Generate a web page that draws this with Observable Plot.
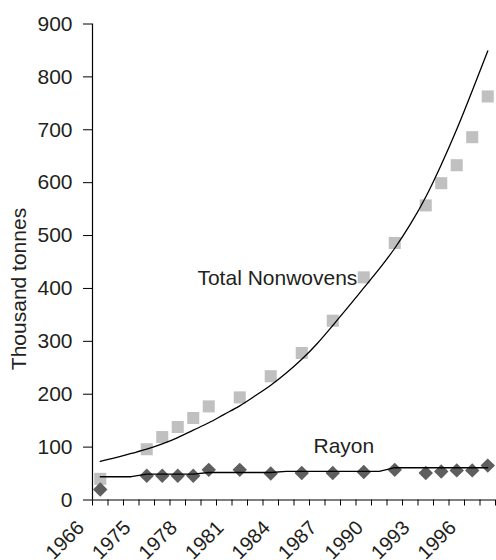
<!DOCTYPE html>
<html><head><meta charset="utf-8">
<script src="https://cdn.jsdelivr.net/npm/d3@7"></script>
<script src="https://cdn.jsdelivr.net/npm/@observablehq/plot@0.6"></script>
<style>body{margin:0;background:#fff}</style>
</head><body><div id="chart"></div>
<script>
const years = ["1966","1973","1974","1975","1976","1977","1978","1979","1980","1981","1982","1983","1984","1985","1986","1987","1988","1989","1990","1991","1992","1993","1994","1995","1996","1997"];
const tickLabels = ["1966","1975","1978","1981","1984","1987","1990","1993","1996"];
const yTicks = [0,100,200,300,400,500,600,700,800,900];

const pointYears = ["1966","1975","1976","1977","1978","1979","1981","1983","1985","1987","1989","1991","1993","1994","1995","1996","1997"];
const totalValues = [40,96,119,138,155,177,194,234,278,339,421,486,557,599,633,686,763];
const rayonValues = [20,46,46,46,46,57,57,50,51,51,53,57,51,54,56,56,65];

const totalTrend = [73,80,88,96,106,118,132,146,162,178,197,217,240,266,296,330,365,401,437,476,521,573,634,701,774,849];
const rayonTrend = [44,44,44,49,49,49,49,52,52,52,52,52,54,54,54,54,54,54,54,61,61,61,61,61,61,61];

const pos = y => years.indexOf(y) + 0.5;
const totalPts = pointYears.map((y, i) => ({year: y, value: totalValues[i]}));
const rayonPts = pointYears.map((y, i) => ({year: y, value: rayonValues[i]}));
const totalLine = years.map((y, i) => ({year: y, value: totalTrend[i]}));
const rayonLine = years.map((y, i) => ({year: y, value: rayonTrend[i]}));

const ink = "#231f20";
const font = "'Liberation Sans', Arial, Helvetica, sans-serif";

const chart = Plot.plot({
  width: 496,
  height: 560,
  marginLeft: 92,
  marginRight: 1,
  marginTop: 23.5,
  marginBottom: 60.5,
  style: {fontFamily: font, color: ink, background: "#fff", overflow: "visible"},
  x: {type: "linear", domain: [0, years.length], axis: null},
  y: {domain: [0, 900], axis: null},
  marks: [
    Plot.axisY({ticks: yTicks, tickSize: 9, tickPadding: 11, fontSize: 21, label: null, stroke: "#000", color: ink}),
    Plot.axisX({ticks: d3.range(0, years.length + 1), tickSize: 6, tickFormat: () => "", label: null, stroke: "#000"}),
    Plot.text(tickLabels, {x: pos, y: 0, text: d => d, dx: -15, dy: 29, rotate: -45, textAnchor: "end", lineAnchor: "bottom", fontSize: 20, fill: ink}),
    Plot.text(["Thousand tonnes"], {frameAnchor: "left", dx: -67, dy: 27, rotate: -90, textAnchor: "middle", lineAnchor: "bottom", fontSize: 21, fill: ink}),
    Plot.dot(totalPts, {x: d => pos(d.year), y: "value", symbol: "square", r: 6.8, fill: "#c0c0c0", stroke: "none"}),
    Plot.dot(rayonPts, {x: d => pos(d.year), y: "value", symbol: "diamond2", r: 6.5, fill: "#5e5e5e", stroke: "none"}),
    Plot.line(totalLine, {x: d => pos(d.year), y: "value", curve: "natural", stroke: "#000", strokeWidth: 1.3}),
    Plot.line(rayonLine, {x: d => pos(d.year), y: "value", stroke: "#000", strokeWidth: 1.3}),
    Plot.text(["Total Nonwovens"], {x: 6.77, y: 407, textAnchor: "start", lineAnchor: "bottom", fontSize: 21, fill: ink}),
    Plot.text(["Rayon"], {x: 14.26, y: 88.5, textAnchor: "start", lineAnchor: "bottom", fontSize: 21, fill: ink}),
    Plot.ruleX([0], {stroke: "#000", strokeWidth: 1.2}),
    Plot.ruleY([0], {stroke: "#000", strokeWidth: 1.2})
  ]
});
document.getElementById("chart").appendChild(chart);
</script>
</body></html>
